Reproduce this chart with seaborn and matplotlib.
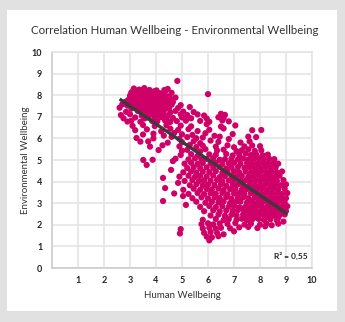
import pandas as pd
import seaborn as sns
import matplotlib.pyplot as plt
from matplotlib.patches import Rectangle

# Human wellbeing (x) and environmental wellbeing (y) scores, one entry per country/region.
# Each source line holds one horizontal band of the cloud; the two lists are aligned line by line.
human_wellbeing = [
    4.82, 6.00,
    3.15, 3.35, 3.55, 3.75, 4.45,
    3.12, 3.42, 3.72, 4.02, 4.32,
    3.05, 3.25, 3.45, 3.60, 3.80, 3.95, 4.15, 4.35, 4.60,
    3.08, 3.38, 3.68, 3.98, 4.28,
    3.00, 3.15, 3.30, 3.50, 3.65, 3.80, 3.95, 4.10, 4.30, 4.50,
    3.18, 3.48, 3.78, 4.08, 4.40,
    3.10, 3.25, 3.40, 3.55, 3.70, 3.85, 4.00, 4.15, 4.30, 4.55, 4.75,
    2.92, 3.28, 3.58, 3.88, 4.18,
    2.80, 3.00, 3.20, 3.35, 3.50, 3.65, 3.80, 3.95, 4.10, 4.25, 4.45, 4.65,
    3.03, 3.38, 3.68, 3.98, 4.30,
    2.70, 2.90, 3.10, 3.30, 3.45, 3.60, 3.75, 3.90, 4.05, 4.20, 4.40, 4.60, 4.95,
    3.18, 3.48, 3.78, 4.08,
    2.60, 3.05, 3.25, 3.40, 3.55, 3.70, 3.85, 4.00, 4.15, 4.35, 4.50, 4.85, 5.30,
    3.58, 3.88, 4.20,
    2.85, 3.30, 3.50, 3.65, 3.80, 3.95, 4.10, 4.30, 4.55, 4.75, 5.05, 5.45,
    2.65, 3.00, 3.45, 3.60, 3.75, 3.90, 4.10, 4.25, 4.45, 4.95, 5.20, 5.60, 5.85, 6.50, 6.65,
    2.75, 3.20, 3.55, 3.70, 3.95, 4.20, 4.40, 4.65, 5.00, 5.35, 5.95, 6.40, 6.60,
    2.90, 3.05, 3.40, 3.85, 4.05, 4.35, 4.55, 4.80, 5.15, 5.70, 6.05, 6.55, 6.80,
    3.10, 3.50, 3.95, 4.40, 4.95, 5.35, 5.95, 6.50, 7.05,
    3.20, 3.65, 4.20, 4.55, 4.85, 5.25, 5.60, 6.05, 6.60, 7.70, 8.05,
    3.50, 3.90, 4.30, 4.70, 5.00, 5.40, 5.90, 6.25, 6.95,
    3.25, 3.90, 4.60, 4.90, 5.20, 5.55, 5.80, 6.45, 6.80, 7.55, 7.85,
    3.40, 3.70, 4.45, 5.00, 5.45, 5.70, 6.10, 6.40, 7.25, 7.60,
    3.77, 4.25, 4.90, 5.30, 5.55, 5.80, 6.30, 6.75, 7.00, 7.40, 7.70, 8.00,
    4.10, 5.00, 5.20, 5.70, 5.90, 6.35, 6.60, 7.10, 7.30, 7.55, 7.80, 8.05,
    4.95, 5.35, 5.60, 6.05, 6.30, 6.70, 6.95, 7.20, 7.45, 7.65, 7.85, 8.10, 8.30,
    3.51, 3.87, 4.75, 5.25, 5.50, 5.75, 5.95, 6.20, 6.45, 6.65, 6.90, 7.15, 7.35, 7.55, 7.75, 7.95, 8.15, 8.35, 8.55,
    3.64, 4.65, 5.10, 5.35, 5.60, 5.80, 6.10, 6.30, 6.55, 6.80, 7.00, 7.25, 7.50, 7.70, 7.90, 8.10, 8.30, 8.50, 8.70,
    4.58, 5.20, 5.45, 5.70, 5.95, 6.20, 6.45, 6.70, 6.90, 7.15, 7.40, 7.60, 7.80, 8.00, 8.20, 8.40, 8.60,
    5.05, 5.35, 5.55, 5.80, 6.05, 6.30, 6.55, 6.75, 7.00, 7.20, 7.45, 7.65, 7.85, 8.05, 8.25, 8.45, 8.65, 8.85,
    4.27, 4.90, 5.25, 5.50, 5.70, 5.95, 6.20, 6.45, 6.65, 6.90, 7.10, 7.30, 7.55, 7.75, 7.95, 8.15, 8.35, 8.55, 8.75,
    4.85, 5.10, 5.40, 5.65, 5.85, 6.10, 6.35, 6.55, 6.80, 7.00, 7.25, 7.45, 7.65, 7.85, 8.05, 8.25, 8.45, 8.65, 8.90,
    4.35, 5.30, 5.55, 5.80, 6.00, 6.25, 6.50, 6.70, 6.95, 7.15, 7.35, 7.60, 7.80, 8.00, 8.20, 8.40, 8.60, 8.80, 9.00,
    5.05, 5.45, 5.70, 5.95, 6.15, 6.40, 6.60, 6.85, 7.05, 7.30, 7.50, 7.70, 7.90, 8.10, 8.30, 8.50, 8.70, 8.95,
    4.70, 5.25, 5.60, 5.85, 6.10, 6.30, 6.55, 6.75, 7.00, 7.20, 7.40, 7.65, 7.85, 8.05, 8.25, 8.45, 8.65, 8.85, 9.05,
    5.04, 5.40, 5.75, 6.00, 6.25, 6.45, 6.70, 6.90, 7.15, 7.35, 7.55, 7.80, 8.00, 8.20, 8.40, 8.60, 8.80, 9.00,
    7.60, 8.10, 8.50, 8.90,
    4.27, 5.15, 5.55, 5.90, 6.15, 6.40, 6.60, 6.85, 7.05, 7.25, 7.50, 7.70, 7.90, 8.10, 8.30, 8.50, 8.70, 8.95,
    7.72, 8.02, 8.32, 8.62, 8.92,
    5.70, 6.05, 6.30, 6.55, 6.80, 7.00, 7.20, 7.45, 7.65, 7.85, 8.05, 8.25, 8.45, 8.65, 8.85, 9.05,
    7.30, 7.55, 7.75, 8.15, 8.35, 8.55, 8.75, 8.95,
    5.85, 6.20, 6.45, 6.70, 6.95, 7.15, 7.40, 7.60, 7.80, 8.00, 8.20, 8.40, 8.60, 8.80, 9.00,
    7.62, 7.92, 8.22, 8.52, 8.82,
    6.10, 6.40, 6.65, 6.90, 7.10, 7.35, 7.55, 7.75, 7.95, 8.15, 8.35, 8.55, 8.75, 8.95,
    7.45, 7.85, 8.30, 8.70,
    5.80, 6.30, 6.60, 6.80, 7.10, 7.30, 7.50, 7.70, 7.95, 8.15, 8.40, 8.65, 8.90,
    5.75, 6.00, 6.20, 6.45, 6.75, 7.05, 7.40, 7.65, 8.00, 8.25, 8.45, 8.70,
    4.95, 5.80, 6.05, 6.30, 6.50, 6.85, 7.20, 7.55, 7.90, 8.20,
    4.92, 5.85, 6.10, 6.35, 6.60, 7.00,
    5.95, 6.15, 6.40,
    6.05,
]

environmental_wellbeing = [
    8.66, 8.05,
    8.31, 8.26, 8.33, 8.24, 8.29,
    8.21, 8.23, 8.20, 8.22, 8.24,
    8.12, 8.18, 8.10, 8.16, 8.13, 8.19, 8.09, 8.17, 8.11,
    8.06, 8.08, 8.05, 8.07, 8.04,
    7.98, 8.03, 7.95, 8.01, 7.97, 8.04, 7.96, 8.02, 7.99, 7.94,
    7.92, 7.94, 7.91, 7.93, 7.95,
    7.83, 7.88, 7.81, 7.86, 7.84, 7.90, 7.82, 7.87, 7.80, 7.85, 7.89,
    7.77, 7.79, 7.76, 7.78, 7.75,
    7.68, 7.72, 7.66, 7.73, 7.69, 7.71, 7.65, 7.74, 7.70, 7.67, 7.72, 7.68,
    7.62, 7.64, 7.61, 7.63, 7.60,
    7.57, 7.52, 7.58, 7.54, 7.56, 7.51, 7.59, 7.55, 7.53, 7.57, 7.50, 7.56, 7.54,
    7.47, 7.49, 7.46, 7.48,
    7.42, 7.38, 7.43, 7.37, 7.41, 7.39, 7.44, 7.36, 7.40, 7.42, 7.38, 7.41, 7.45,
    7.32, 7.34, 7.31,
    7.23, 7.27, 7.21, 7.26, 7.24, 7.28, 7.22, 7.25, 7.20, 7.27, 7.24, 7.22,
    7.08, 7.12, 7.06, 7.11, 7.09, 7.13, 7.07, 7.10, 7.05, 7.12, 7.08, 7.11, 7.06, 7.14, 7.09,
    6.93, 6.97, 6.92, 6.96, 6.94, 6.98, 6.91, 6.95, 6.97, 6.93, 6.92, 6.98, 6.94,
    6.78, 6.82, 6.77, 6.81, 6.79, 6.83, 6.76, 6.80, 6.82, 6.81, 6.77, 6.83, 6.79,
    6.58, 6.62, 6.57, 6.61, 6.59, 6.56, 6.66, 6.55, 6.60,
    6.38, 6.42, 6.33, 6.45, 6.39, 6.43, 6.34, 6.40, 6.46, 6.38, 6.39,
    6.18, 6.22, 6.13, 6.25, 6.19, 6.16, 6.24, 6.12, 6.20,
    6.02, 6.00, 6.07, 5.98, 6.06, 6.01, 6.04, 6.08, 5.97, 6.08, 6.06,
    5.85, 5.86, 5.80, 5.83, 5.87, 5.78, 5.90, 5.84, 5.81, 5.86,
    5.62, 5.68, 5.63, 5.70, 5.60, 5.66, 5.62, 5.68, 5.59, 5.63, 5.67, 5.64,
    5.46, 5.43, 5.47, 5.40, 5.50, 5.44, 5.48, 5.41, 5.45, 5.49, 5.42, 5.45,
    5.23, 5.27, 5.19, 5.26, 5.24, 5.28, 5.21, 5.25, 5.30, 5.23, 5.26, 5.22, 5.25,
    5.00, 5.01, 5.06, 5.03, 5.07, 5.02, 5.05, 5.08, 5.01, 5.04, 5.06, 5.03, 5.07, 5.02, 5.05, 5.08, 5.03, 5.06, 5.04,
    4.77, 4.95, 4.83, 4.87, 4.82, 4.86, 4.84, 4.88, 4.81, 4.85, 4.87, 4.83, 4.86, 4.82, 4.85, 4.88, 4.84, 4.86, 4.83,
    4.54, 4.63, 4.67, 4.62, 4.66, 4.64, 4.68, 4.61, 4.65, 4.67, 4.63, 4.66, 4.62, 4.65, 4.68, 4.64, 4.66,
    4.43, 4.47, 4.42, 4.46, 4.44, 4.48, 4.41, 4.45, 4.47, 4.43, 4.46, 4.42, 4.45, 4.48, 4.44, 4.46, 4.43, 4.47,
    4.17, 4.23, 4.27, 4.22, 4.26, 4.24, 4.28, 4.21, 4.25, 4.27, 4.23, 4.26, 4.22, 4.25, 4.28, 4.24, 4.26, 4.23, 4.27,
    3.94, 4.03, 4.07, 4.02, 4.06, 4.04, 4.08, 4.01, 4.05, 4.07, 4.03, 4.06, 4.02, 4.05, 4.08, 4.04, 4.06, 4.03, 4.07,
    3.70, 3.83, 3.87, 3.82, 3.86, 3.84, 3.88, 3.81, 3.85, 3.87, 3.83, 3.86, 3.82, 3.85, 3.88, 3.84, 3.86, 3.83, 3.87,
    3.62, 3.67, 3.62, 3.66, 3.64, 3.68, 3.61, 3.65, 3.67, 3.63, 3.66, 3.62, 3.65, 3.68, 3.64, 3.66, 3.63, 3.67,
    3.45, 3.43, 3.47, 3.42, 3.46, 3.44, 3.48, 3.41, 3.45, 3.47, 3.43, 3.46, 3.42, 3.45, 3.48, 3.44, 3.46, 3.43, 3.47,
    3.33, 3.23, 3.27, 3.22, 3.26, 3.24, 3.28, 3.21, 3.25, 3.27, 3.23, 3.26, 3.22, 3.25, 3.28, 3.24, 3.26, 3.23,
    3.15, 3.13, 3.17, 3.14,
    3.10, 2.92, 3.07, 3.02, 3.06, 3.04, 3.08, 3.01, 3.05, 3.07, 3.03, 3.06, 3.02, 3.05, 3.08, 3.04, 3.06, 3.03,
    2.96, 2.98, 2.95, 2.97, 2.99,
    2.83, 2.87, 2.82, 2.86, 2.84, 2.88, 2.81, 2.85, 2.87, 2.83, 2.86, 2.82, 2.85, 2.88, 2.84, 2.86,
    2.76, 2.72, 2.78, 2.74, 2.71, 2.77, 2.73, 2.75,
    2.63, 2.67, 2.62, 2.66, 2.64, 2.68, 2.61, 2.65, 2.67, 2.63, 2.66, 2.62, 2.65, 2.68, 2.64,
    2.56, 2.54, 2.57, 2.55, 2.53,
    2.43, 2.47, 2.42, 2.46, 2.44, 2.48, 2.41, 2.45, 2.47, 2.43, 2.46, 2.42, 2.45, 2.48,
    2.36, 2.34, 2.37, 2.33,
    2.23, 2.27, 2.22, 2.26, 2.24, 2.28, 2.21, 2.25, 2.27, 2.23, 2.26, 2.20, 2.15,
    2.03, 2.07, 2.02, 2.06, 2.04, 2.08, 2.01, 2.05, 2.00, 2.06, 1.98, 2.05,
    1.80, 1.83, 1.87, 1.82, 1.86, 1.84, 1.88, 1.90, 1.85, 1.93,
    1.60, 1.63, 1.67, 1.62, 1.56, 1.70,
    1.45, 1.42, 1.47,
    1.28,
]

axis_ticks = list(range(0, 11))
x_tick_labels = [""] + [str(t) for t in range(1, 11)]
y_tick_labels = [str(t) for t in range(0, 11)]
chart_title = "Correlation Human Wellbeing - Environmental Wellbeing"
x_label = "Human Wellbeing"
y_label = "Environmental Wellbeing"
fit_label = "R\u00b2 = 0,55"

sns.set_theme(style="whitegrid")
plt.rcParams["font.family"] = ["Lato", "DejaVu Sans"]

df = pd.DataFrame({x_label: human_wellbeing, y_label: environmental_wellbeing})

W, H = 345, 322
fig = plt.figure(figsize=(W / 100, H / 100), dpi=100, facecolor="#e1e1e1")
# white card behind the chart
fig.patches.append(Rectangle((7 / W, 11 / H), 330 / W, 301 / H, transform=fig.transFigure,
                             facecolor="white", edgecolor="none", zorder=-5))

ax = fig.add_axes([52 / W, 54 / H, 260 / W, 216 / H])
ax.set_facecolor("white")

sns.scatterplot(data=df, x=x_label, y=y_label, s=20, color="#cf0068",
                edgecolor="none", linewidth=0, ax=ax, zorder=2)
sns.regplot(data=df, x=x_label, y=y_label, scatter=False, ci=None, ax=ax,
            line_kws=dict(color="#3a3a3a", lw=2.4, zorder=3, solid_capstyle="butt"))

ax.set_xlim(0, 10)
ax.set_ylim(0, 10)
ax.set_xticks(axis_ticks)
ax.set_xticklabels(x_tick_labels)
ax.set_yticks(axis_ticks)
ax.set_yticklabels(y_tick_labels)
ax.grid(True, color="#e3e3e3", linewidth=1.1)
ax.set_axisbelow(True)
for side in ["top", "right"]:
    ax.spines[side].set_color("#e3e3e3")
    ax.spines[side].set_linewidth(1.1)
for side in ["left", "bottom"]:
    ax.spines[side].set_color("#c9c9c9")
    ax.spines[side].set_linewidth(1.1)

ax.tick_params(axis="both", length=0, labelsize=6.5, colors="#222222")
ax.tick_params(axis="x", pad=6)
ax.tick_params(axis="y", pad=7)
for lab in ax.get_xticklabels() + ax.get_yticklabels():
    lab.set_fontweight("bold")

ax.set_xlabel(x_label, fontsize=7, color="#333333", labelpad=4)
ax.set_ylabel(y_label, fontsize=7, color="#333333", labelpad=1)

ax.text(0.985, 0.035, fit_label, transform=ax.transAxes, ha="right", va="bottom",
        fontsize=6, fontweight="bold", color="#222222", zorder=4)

fig.text(175 / W, 1 - 30 / H, chart_title, ha="center", va="center",
         fontsize=8.3, color="#333333")

fig.savefig("out.png", dpi=100, facecolor=fig.get_facecolor())
